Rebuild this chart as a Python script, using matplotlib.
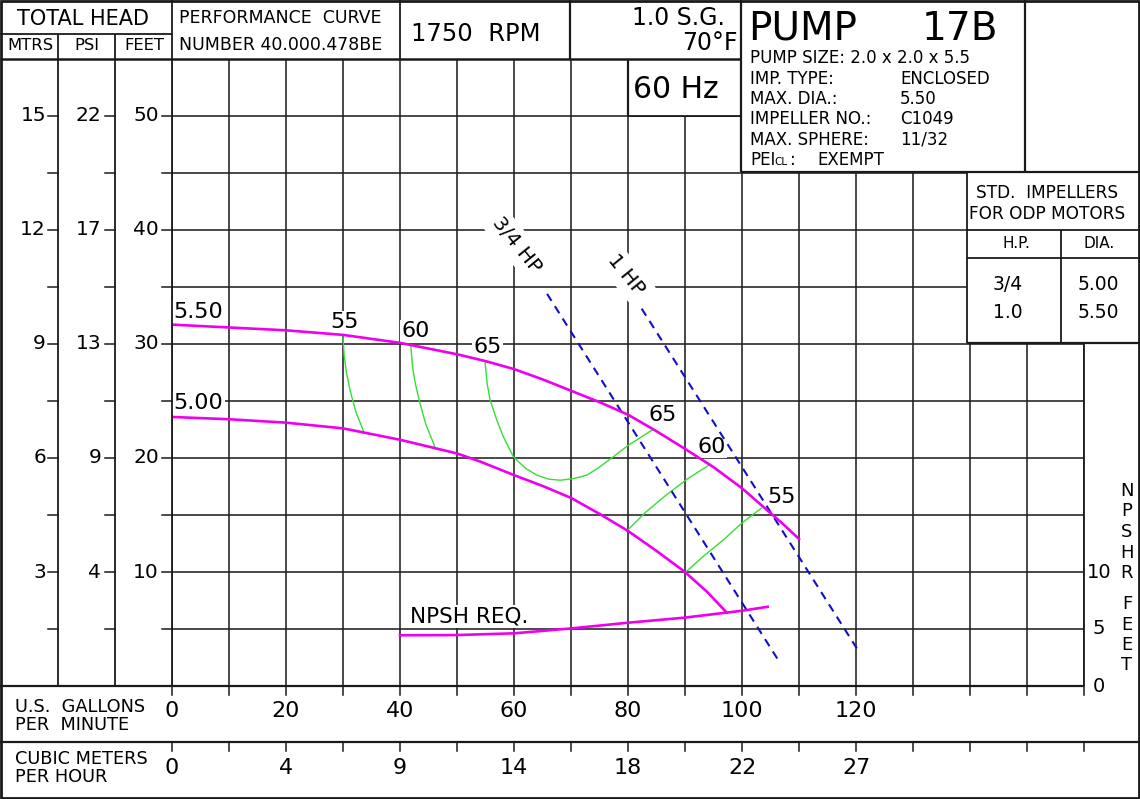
import matplotlib
matplotlib.use("Agg")
import matplotlib.pyplot as plt
from matplotlib.patches import Rectangle
from matplotlib.transforms import blended_transform_factory
import numpy as np

plt.rcParams['font.family'] = ['DejaVu Sans']

# ---------------- data ----------------
gpm_550 = [0, 10, 20, 30, 40, 50, 55, 60, 65, 70, 75, 80, 85, 90, 95, 100, 104, 107, 110]
head_550 = [31.7, 31.45, 31.2, 30.8, 30.1, 29.1, 28.5, 27.8, 26.9, 25.9, 24.9, 23.8, 22.35, 20.8, 19.2, 17.35, 15.6, 14.3, 12.9]

gpm_500 = [0, 10, 20, 30, 40, 50, 54, 60, 65, 70, 75, 80, 85, 90, 94, 97.3]
head_500 = [23.6, 23.4, 23.1, 22.6, 21.6, 20.4, 19.7, 18.5, 17.55, 16.5, 15.1, 13.6, 11.85, 10.0, 8.2, 6.45]

gpm_npsh = [40, 50, 60, 70, 80, 90, 100, 104.5]
npsh_req = [4.45, 4.47, 4.62, 5.05, 5.55, 6.0, 6.6, 6.95]

eff55_left_gpm = [30.0, 30.2, 30.6, 31.3, 32.3, 33.7]
eff55_left_head = [30.6, 29.0, 27.5, 25.8, 24.0, 22.2]
eff60_left_gpm = [41.9, 42.2, 42.7, 43.4, 44.5, 46.1]
eff60_left_head = [29.8, 28.0, 26.5, 25.0, 23.0, 21.0]
eff65_gpm = [54.9, 55.3, 55.8, 57.0, 58.1, 59.9, 62.0, 64.0, 66.0, 68.1, 70.5, 72.8, 75.0, 77.4, 80.0, 84.4]
eff65_head = [28.5, 26.5, 25.1, 23.3, 21.9, 20.1, 19.1, 18.5, 18.15, 18.05, 18.2, 18.5, 19.2, 20.1, 21.1, 22.5]
eff60_right_gpm = [79.8, 83.0, 86.7, 90.5, 94.3]
eff60_right_head = [13.6, 15.2, 16.75, 18.2, 19.4]
eff55_right_gpm = [90.0, 93.5, 96.7, 100.0, 103.4]
eff55_right_head = [9.94, 11.5, 12.8, 14.3, 15.6]

hp075_gpm = [65.8, 106.2]
hp075_head = [34.4, 2.4]
hp100_gpm = [82.4, 120.4]
hp100_head = [33.1, 3.1]

feet_ticks = [10, 20, 30, 40, 50]
feet_labels = ['10', '20', '30', '40', '50']
mtrs_labels = ['3', '6', '9', '12', '15']
psi_labels = ['4', '9', '13', '17', '22']
gpm_ticks = [0, 20, 40, 60, 80, 100, 120]
gpm_labels = ['0', '20', '40', '60', '80', '100', '120']
m3h_labels = ['0', '4', '9', '14', '18', '22', '27']
npsh_ticks = [0, 5, 10]
npsh_labels = ['0', '5', '10']

# ---------------- layout ----------------
W, H = 1140, 799
fig = plt.figure(figsize=(W / 100, H / 100), dpi=100)
X0, X1, Y0, Y1 = 172, 1084, 59, 686

ax = fig.add_axes([X0 / W, 1 - Y1 / H, (X1 - X0) / W, (Y1 - Y0) / H])
ax.set_xlim(0, 160)
ax.set_ylim(0, 55)
ax.set_xticks(np.arange(0, 161, 10))
ax.set_yticks(np.arange(0, 56, 5))
ax.tick_params(length=0, labelbottom=False, labelleft=False)
ax.grid(True, color='#202020', lw=1.15)
ax.set_axisbelow(True)
for s in ax.spines.values():
    s.set_visible(False)

fr = fig.add_axes([0, 0, 1, 1], zorder=2)
fr.set_xlim(0, W)
fr.set_ylim(H, 0)
fr.axis('off')

LC = '#1a1a1a'
def hline(y, x0, x1, lw=1.3):
    fr.plot([x0, x1], [y, y], color=LC, lw=lw, solid_capstyle='butt')
def vline(x, y0, y1, lw=1.3):
    fr.plot([x, x], [y0, y1], color=LC, lw=lw, solid_capstyle='butt')

# white boxes over the grid
for (x, y, w, h) in [(628, 59, 113, 57), (741, 0, 399, 172), (967, 172, 173, 171)]:
    fr.add_patch(Rectangle((x, y), w, h, facecolor='white', edgecolor='none'))

# frame lines
fr.add_patch(Rectangle((1, 1), W - 2, H - 2, fill=False, edgecolor=LC, lw=2.0))
hline(34, 0, 172)
hline(59, 0, 741, lw=1.8)
hline(116, 628, 741)
hline(172, 741, W, lw=1.6)
hline(230, 967, W)
hline(258, 967, W)
hline(343, 967, W, lw=1.6)
hline(686, 0, 1084, lw=1.6)
hline(742, 0, W, lw=1.6)
vline(58, 34, 686)
vline(115, 34, 686)
vline(172, 0, 686)
vline(400, 0, 59)
vline(570, 0, 59, lw=1.6)
vline(628, 59, 116, lw=1.6)
vline(741, 0, 172, lw=1.6)
vline(1025, 0, 172, lw=1.6)
vline(967, 172, 343)
vline(1061, 230, 343)
vline(1084, 343, 686)

# left total-head scales
tr_y = blended_transform_factory(fr.transData, ax.transData)
for ft in np.arange(5, 51, 5):
    for xc in (58, 115, 172):
        fr.plot([xc - 10, xc], [ft, ft], color=LC, lw=1.1, transform=tr_y)
for ft, m, p, f in zip(feet_ticks, mtrs_labels, psi_labels, feet_labels):
    fr.text(46, ft, m, transform=tr_y, ha='right', va='center', fontsize=14.5)
    fr.text(101, ft, p, transform=tr_y, ha='right', va='center', fontsize=14.5)
    fr.text(159, ft, f, transform=tr_y, ha='right', va='center', fontsize=14.5)

# NPSH scale on the right
for v, lab in zip(npsh_ticks, npsh_labels):
    fr.text(1099, v, lab, transform=tr_y, ha='center', va='center', fontsize=14)
for i, ch in enumerate('NPSHR'):
    fr.text(1127, 491 + i * 20.5, ch, ha='center', va='center', fontsize=13)
for i, ch in enumerate('FEET'):
    fr.text(1127, 604 + i * 20.5, ch, ha='center', va='center', fontsize=13)

# bottom flow scales
tr_x = blended_transform_factory(ax.transData, fr.transData)
for g in np.arange(0, 161, 10):
    fr.plot([g, g], [686, 695], color=LC, lw=1.1, transform=tr_x)
    fr.plot([g, g], [742, 751], color=LC, lw=1.1, transform=tr_x)
for g, lg, lm in zip(gpm_ticks, gpm_labels, m3h_labels):
    fr.text(g, 711, lg, transform=tr_x, ha='center', va='center', fontsize=16)
    fr.text(g, 768, lm, transform=tr_x, ha='center', va='center', fontsize=16)
fr.text(15, 716, 'U.S.  GALLONS\nPER  MINUTE', ha='left', va='center', fontsize=12.8, linespacing=1.0)
fr.text(15, 768, 'CUBIC METERS\nPER HOUR', ha='left', va='center', fontsize=12.8, linespacing=1.0)

# header texts
fr.text(83, 19, 'TOTAL HEAD', ha='center', va='center', fontsize=15)
fr.text(30, 46, 'MTRS', ha='center', va='center', fontsize=11.8)
fr.text(87, 46, 'PSI', ha='center', va='center', fontsize=11.8)
fr.text(144, 46, 'FEET', ha='center', va='center', fontsize=11.8)
fr.text(179, 18, 'PERFORMANCE  CURVE', ha='left', va='center', fontsize=12.5)
fr.text(179, 45, 'NUMBER 40.000.478BE', ha='left', va='center', fontsize=12.5)
fr.text(411, 34, '1750  RPM', ha='left', va='center', fontsize=17.5)
fr.text(725, 18, '1.0 S.G.', ha='right', va='center', fontsize=17)
fr.text(738, 43, '70°F', ha='right', va='center', fontsize=17)
fr.text(633, 90, '60 Hz', ha='left', va='center', fontsize=21.5)
fr.text(748, 29, 'PUMP', ha='left', va='center', fontsize=28)
fr.text(998, 29, '17B', ha='right', va='center', fontsize=28)
info = [('PUMP SIZE: 2.0 x 2.0 x 5.5', ''), ('IMP. TYPE:', 'ENCLOSED'), ('MAX. DIA.:', '5.50'),
        ('IMPELLER NO.:', 'C1049'), ('MAX. SPHERE:', '11/32')]
for i, (k, v) in enumerate(info):
    yy = 58 + i * 20.5
    fr.text(750, yy, k, ha='left', va='center', fontsize=12)
    if v:
        fr.text(900, yy, v, ha='left', va='center', fontsize=12)
fr.text(750, 160, 'PEI', ha='left', va='center', fontsize=12)
fr.text(774, 162, 'CL', ha='left', va='center', fontsize=7.5)
fr.text(790, 160, ':', ha='left', va='center', fontsize=12)
fr.text(817, 160, 'EXEMPT', ha='left', va='center', fontsize=12)

# impeller table
fr.text(1047, 193, 'STD.  IMPELLERS', ha='center', va='center', fontsize=12.2)
fr.text(1047, 214, 'FOR ODP MOTORS', ha='center', va='center', fontsize=12.2)
fr.text(1016, 244, 'H.P.', ha='center', va='center', fontsize=11)
fr.text(1099, 244, 'DIA.', ha='center', va='center', fontsize=11)
fr.text(1008, 285, '3/4', ha='center', va='center', fontsize=13.5)
fr.text(1008, 312, '1.0', ha='center', va='center', fontsize=13.5)
fr.text(1098, 285, '5.00', ha='center', va='center', fontsize=13.5)
fr.text(1098, 312, '5.50', ha='center', va='center', fontsize=13.5)

# ---------------- curves ----------------
MAG = '#ee00ee'
GRN = '#33e033'
BLU = '#1010c8'
ax.plot(gpm_550, head_550, color=MAG, lw=1.9, zorder=7)
ax.plot(gpm_500, head_500, color=MAG, lw=1.9, zorder=7)
ax.plot(gpm_npsh, npsh_req, color=MAG, lw=1.9, zorder=7)
for gx, hy in [(eff55_left_gpm, eff55_left_head), (eff60_left_gpm, eff60_left_head),
               (eff65_gpm, eff65_head), (eff60_right_gpm, eff60_right_head),
               (eff55_right_gpm, eff55_right_head)]:
    ax.plot(gx, hy, color=GRN, lw=1.0, zorder=6)
ax.plot(hp075_gpm, hp075_head, color=BLU, lw=1.5, ls=(0, (4, 3)), zorder=6)
ax.plot(hp100_gpm, hp100_head, color=BLU, lw=1.5, ls=(0, (4, 3)), zorder=6)

# labels
bb = dict(facecolor='white', edgecolor='none', pad=1.0)
ax.text(0.3, 32.8, '5.50', ha='left', va='center', fontsize=16, bbox=bb, zorder=5)
ax.text(0.3, 24.8, '5.00', ha='left', va='center', fontsize=16, bbox=bb, zorder=5)
for gx, hy, lab in [(30.2, 31.9, '55'), (42.8, 31.1, '60'), (55.4, 29.7, '65'),
                    (86.0, 23.8, '65'), (94.6, 21.0, '60'), (107.0, 16.6, '55')]:
    ax.text(gx, hy, lab, ha='center', va='center', fontsize=16, bbox=bb, zorder=5)
ax.text(52.1, 6.1, 'NPSH REQ.', ha='center', va='center', fontsize=15.5, bbox=bb, zorder=5)
ax.text(60.4, 38.7, '3/4 HP', ha='center', va='center', fontsize=14.5, rotation=-51,
        rotation_mode='anchor', bbox=dict(facecolor='white', edgecolor='none', pad=4), zorder=5)
ax.text(79.6, 36.1, '1 HP', ha='center', va='center', fontsize=14.5, rotation=-51,
        rotation_mode='anchor', bbox=dict(facecolor='white', edgecolor='none', pad=4), zorder=5)

fig.savefig('out.png', dpi=100)
